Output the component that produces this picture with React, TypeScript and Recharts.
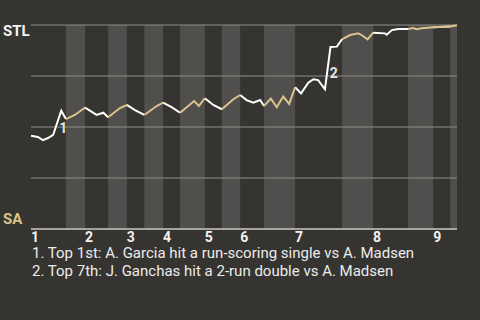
import { LineChart, Line, XAxis, YAxis, ReferenceArea, ReferenceLine, ReferenceDot } from "recharts"

// Game progress runs 0..100 along the x axis; win % is from STL's side.
const innings = ["1", "2", "3", "4", "5", "6", "7", "8", "9"]
const halfStarts = [0, 8.2, 12.7, 18.1, 22.5, 26.6, 31.0, 35.0, 40.8, 44.8, 49.1, 54.7, 62.0, 73.0, 80.3, 88.5, 94.4, 98.4]
const gameEnd = 100

const plays = [
  0, 1.6, 2.8, 4.0, 5.2, 7.1, 8.2,
  10.3, 12.2, 12.7,
  15.4, 17.0, 18.1,
  20.9, 22.5,
  24.4, 26.6,
  29.5, 31.0,
  33.0, 35.0,
  38.3, 39.4, 40.8,
  42.8, 44.8,
  47.5, 49.1,
  50.6, 52.2, 53.8, 54.7,
  56.3, 57.7, 59.2, 60.6, 62.0,
  63.4, 65.1, 66.3, 67.4, 69.0, 70.3, 71.8, 73.0,
  74.9, 76.8, 77.6, 79.0, 80.3,
  83.1, 83.5, 84.7, 86.2, 88.5,
  89.7, 90.5, 91.7, 94.4,
  98.4,
  100,
]
const stlWinPct = [
  45.7, 45.1, 43.6, 44.6, 46.1, 58.0, 53.9,
  55.9, 58.8, 59.5,
  55.9, 57.0, 54.8,
  59.3, 60.8,
  58.3, 55.9,
  60.3, 61.9,
  59.7, 57.0,
  62.7, 60.3, 64.1,
  60.8, 58.7,
  63.6, 65.7,
  63.2, 61.9, 63.2, 60.3,
  63.9, 59.7, 64.9, 61.3, 69.5,
  66.5, 71.7, 73.4, 73.0, 68.5, 89.2, 89.4, 93.0,
  95.1, 95.9, 95.1, 93.0, 96.2,
  95.9, 95.2, 97.5, 98.0, 98.0,
  98.5, 97.9, 98.4, 98.9,
  99.3,
  99.9,
]

const notes = [
  "1. Top 1st: A. Garcia hit a run-scoring single vs A. Madsen",
  "2. Top 7th: J. Ganchas hit a 2-run double vs A. Madsen",
]
// play at which each noted hit lands
const notePlays = [7.1, 70.3]

const STL_COLOR = "#ffffff"
const SA_COLOR = "#dcc38c"

const halfEnds = [...halfStarts.slice(1), gameEnd]
const inningStarts = halfStarts.filter((_, i) => i % 2 === 0)

// even halves are the top (STL batting); a play on a boundary belongs to both halves
const inHalf = (p: number, bottom: boolean) =>
  halfStarts.some((s, i) => (i % 2 === 1) === bottom && p >= s && p <= halfEnds[i])

const data = plays.map((p, i) => ({
  play: p,
  top: inHalf(p, false) ? stlWinPct[i] : null,
  bottom: inHalf(p, true) ? stlWinPct[i] : null,
}))

const noteMarks = notePlays.map((p, n) => {
  const i = plays.indexOf(p)
  return {
    label: String(n + 1),
    x: (plays[i - 1] + plays[i]) / 2,
    y: (stlWinPct[i - 1] + stlWinPct[i]) / 2,
  }
})

const font = "Roboto, 'DejaVu Sans', sans-serif"

function InningTick({ x, y, payload }: any) {
  const i = inningStarts.indexOf(payload.value)
  return (
    <text x={x} y={y} dominantBaseline="central" textAnchor="start" fill="#f2f2f2" fontSize={14} fontWeight={700} fontFamily={font}>
      {innings[i]}
    </text>
  )
}

const teamLabel = { position: "absolute" as const, left: 3, fontSize: 15, fontWeight: 700, lineHeight: "18px" }

export default function App() {
  return (
    <div style={{ position: "absolute", left: 0, top: 0, width: 480, height: 320, background: "#363430", fontFamily: font }}>
      <LineChart width={480} height={245} data={data} margin={{ top: 25, right: 23, bottom: 0, left: 31 }}>
        {halfStarts.map((s, i) =>
          i % 2 === 1 ? (
            <ReferenceArea key={s} x1={s} x2={halfEnds[i]} y1={0} y2={100} fill="#504f4d" fillOpacity={1} stroke="none" />
          ) : null
        )}
        {[25, 50, 75, 100].map((v) => (
          <ReferenceLine key={v} y={v} stroke="#8e8d8a" strokeWidth={1} />
        ))}
        <XAxis
          dataKey="play"
          type="number"
          domain={[0, gameEnd]}
          ticks={inningStarts}
          tick={<InningTick />}
          tickLine={false}
          axisLine={{ stroke: "#cac9c6", strokeWidth: 1.5 }}
          height={16}
          interval={0}
        />
        <YAxis
          type="number"
          domain={[0, 100]}
          tick={false}
          tickLine={false}
          axisLine={{ stroke: "#c0bfbc", strokeWidth: 1.5 }}
          width={0}
        />
        <Line dataKey="top" type="linear" stroke={STL_COLOR} strokeWidth={2} dot={false} connectNulls={false} isAnimationActive={false} />
        <Line dataKey="bottom" type="linear" stroke={SA_COLOR} strokeWidth={2} dot={false} connectNulls={false} isAnimationActive={false} />
        {noteMarks.map((m) => (
          <ReferenceDot
            key={m.label}
            x={m.x}
            y={m.y}
            r={0}
            shape={(props: any) => (
              <text x={props.cx + 6} y={props.cy + 5} dominantBaseline="central" textAnchor="middle" fill="#e4e4e4" fontSize={14} fontWeight={700} fontFamily={font}>
                {m.label}
              </text>
            )}
          />
        ))}
      </LineChart>
      <div style={{ ...teamLabel, top: 22, color: "#f2f2f2" }}>STL</div>
      <div style={{ ...teamLabel, top: 210, color: SA_COLOR }}>SA</div>
      <div style={{ position: "absolute", left: 32, top: 244, color: "#ececec", fontSize: 15, lineHeight: "18px" }}>
        {notes.map((n) => (
          <div key={n}>{n}</div>
        ))}
      </div>
    </div>
  )
}
